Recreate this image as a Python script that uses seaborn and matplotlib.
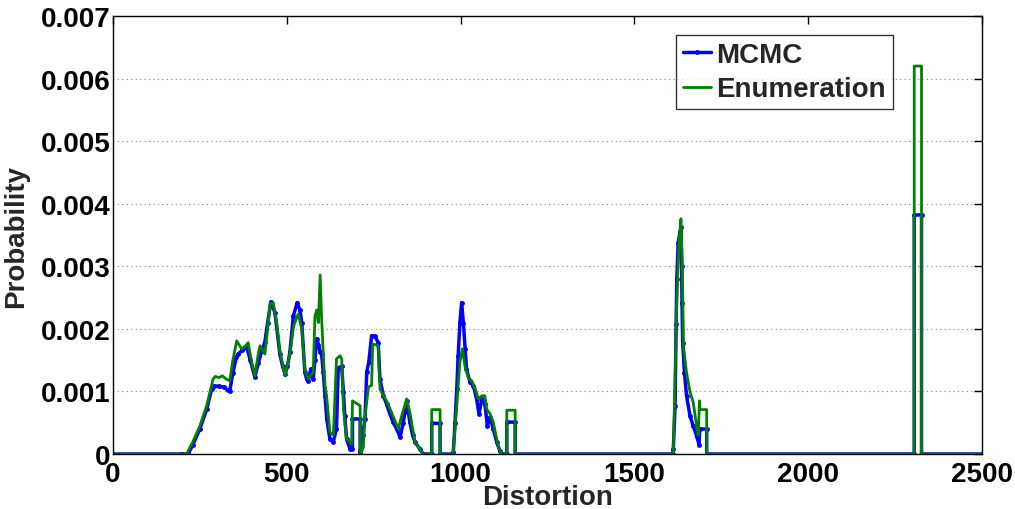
import numpy as np
import pandas as pd
import matplotlib
matplotlib.use("Agg")
import matplotlib.pyplot as plt
import seaborn as sns

# Distortion values and probabilities (probabilities given in units of 1e-3)
mcmc_x = [0, 200, 216, 230, 250, 270, 284, 292, 305, 320, 330, 336, 345, 355, 361, 372,
          385, 395, 408, 418, 428, 437, 445, 454, 466, 480, 488, 495, 502, 509, 519, 530,
          538, 543, 552, 557, 562, 569, 576, 581, 586, 591, 596, 600, 605, 610, 615, 624,
          634, 643, 648, 658, 663, 667, 672, 682, 689, 689, 711, 711, 718, 725, 730, 736,
          744, 754, 763, 768, 778, 787, 796, 806, 816, 826, 835, 840, 845, 854, 862, 869,
          883, 893, 917, 917, 941, 941, 975, 979, 984, 989, 993, 998, 1003, 1008, 1013,
          1017, 1027, 1037, 1046, 1053, 1061, 1070, 1077, 1085, 1094, 1104, 1113, 1118,
          1133, 1133, 1157, 1157, 1610, 1612, 1617, 1620, 1622, 1626, 1631, 1634, 1636,
          1637, 1639, 1644, 1650, 1660, 1669, 1679, 1686, 1688, 1708, 1708, 2305, 2305,
          2326, 2326, 2500]
mcmc_p = [0, 0, 0, 0.15, 0.4, 0.72, 1.04, 1.09, 1.08, 1.07, 1.02, 1.01, 1.3, 1.55, 1.6, 1.66,
          1.7, 1.5, 1.23, 1.45, 1.65, 1.79, 2.1, 2.43, 2.26, 1.6, 1.4, 1.28, 1.4, 1.63, 2.21, 2.42,
          2.3, 2.1, 1.31, 1.2, 1.17, 1.36, 1.2, 1.5, 1.84, 1.75, 1.63, 1.6, 1.31, 0.93, 0.56, 0.24,
          0.2, 0.4, 1.38, 1.4, 0.99, 0.6, 0.24, 0.08, 0.08, 0.56, 0.56, 0.02, 0.3, 0.56, 1.31, 1.47,
          1.89, 1.88, 1.78, 1.2, 0.93, 0.8, 0.65, 0.51, 0.4, 0.27, 0.5, 0.67, 0.85, 0.51, 0.3, 0.19,
          0.08, 0, 0, 0.49, 0.49, 0, 0, 0.03, 0.5, 1.04, 1.57, 2.1, 2.42, 2.1, 1.68,
          1.36, 1.15, 1.09, 0.88, 0.64, 0.88, 0.8, 0.45, 0.59, 0.4, 0.19, 0.05, 0,
          0, 0.51, 0.51, 0, 0, 0.08, 0.77, 2.08, 2.8, 3.38, 3.54, 3.62, 3.0,
          2.42, 1.78, 1.3, 0.93, 0.61, 0.45, 0.29, 0.15, 0.4, 0.4, 0, 0, 3.82,
          3.82, 0, 0]

enum_x = [0, 200, 212, 230, 250, 270, 288, 295, 305, 315, 325, 336, 345, 356, 370, 380,
          389, 398, 408, 418, 423, 437, 445, 452, 461, 471, 480, 495, 509, 520, 533, 543,
          552, 562, 572, 576, 581, 586, 591, 596, 600, 605, 610, 615, 624, 634, 643, 653,
          658, 663, 672, 687, 689, 706, 711, 712, 720, 725, 735, 744, 747, 763, 768, 778,
          787, 801, 821, 830, 845, 854, 869, 880, 893, 917, 917, 941, 941, 976, 979, 989,
          998, 1005, 1013, 1022, 1032, 1042, 1051, 1061, 1070, 1075, 1085, 1094, 1108,
          1118, 1133, 1133, 1157, 1157, 1610, 1612, 1617, 1622, 1629, 1634, 1638, 1641,
          1650, 1660, 1669, 1679, 1684, 1687, 1689, 1708, 1708, 2305, 2305, 2326, 2326,
          2500]
enum_p = [0, 0, 0, 0.2, 0.45, 0.78, 1.2, 1.24, 1.22, 1.25, 1.2, 1.17, 1.5, 1.81, 1.68, 1.72,
          1.78, 1.5, 1.25, 1.6, 1.73, 1.6, 2.0, 2.4, 2.42, 2.1, 1.65, 1.25, 1.6, 2.05, 2.24, 2.0,
          1.35, 1.2, 1.28, 1.3, 2.2, 2.3, 2.1, 2.86, 2.2, 1.6, 1.1, 0.9, 0.35, 0.3, 1.52, 1.57,
          1.52, 0.72, 0.24, 0.16, 0.85, 0.79, 0.77, 0, 0.1, 0.6, 1.07, 1.1, 1.76, 1.73, 1.04, 0.93,
          0.85, 0.67, 0.4, 0.6, 0.88, 0.67, 0.19, 0.1, 0, 0, 0.71, 0.71, 0, 0, 0.05, 0.77,
          1.47, 1.68, 1.39, 1.22, 1.17, 1.05, 0.88, 0.93, 0.93, 0.72, 0.64, 0.51, 0.13,
          0, 0, 0.70, 0.70, 0, 0, 0.05, 1.2, 2.48, 3.44, 3.76, 3.0, 1.73,
          1.3, 0.99, 0.83, 0.45, 0.3, 0.85, 0.71, 0.71, 0, 0, 6.2, 6.2, 0,
          0]

x_ticks = [0, 500, 1000, 1500, 2000, 2500]
y_ticks = [0, 0.001, 0.002, 0.003, 0.004, 0.005, 0.006, 0.007]
y_tick_labels = ["0", "0.001", "0.002", "0.003", "0.004", "0.005", "0.006", "0.007"]

mcmc = pd.DataFrame({"Distortion": mcmc_x, "Probability": np.array(mcmc_p) * 1e-3})
enum = pd.DataFrame({"Distortion": enum_x, "Probability": np.array(enum_p) * 1e-3})

sns.set_theme(style="white")
plt.rcParams["font.family"] = ["Liberation Sans", "DejaVu Sans"]
plt.rcParams["font.weight"] = "bold"

fig = plt.figure(figsize=(10.15, 5.10), dpi=100)
ax = fig.add_axes([0.1113, 0.1078, 0.8562, 0.8589])

sns.lineplot(data=mcmc, x="Distortion", y="Probability", estimator=None, sort=False,
             color="#0000ff", linewidth=2.5, marker=".", markersize=7,
             markeredgewidth=0, label="MCMC", ax=ax)
sns.lineplot(data=enum, x="Distortion", y="Probability", estimator=None, sort=False,
             color="#008000", linewidth=2.0, label="Enumeration", ax=ax)

ax.set_xlim(0, 2500)
ax.set_ylim(0, 0.007)
ax.set_xticks(x_ticks)
ax.set_xticklabels([str(t) for t in x_ticks])
ax.set_yticks(y_ticks)
ax.set_yticklabels(y_tick_labels)

ax.yaxis.grid(True, linestyle=(0, (1, 3)), color="#888888", linewidth=0.8)
ax.xaxis.grid(False)
ax.set_axisbelow(True)

for s in ax.spines.values():
    s.set_visible(True)
    s.set_color("black")
    s.set_linewidth(1.0)

ax.tick_params(direction="in", length=6, width=1, top=True, right=True,
               labelsize=20, colors="black", pad=2)
ax.tick_params(axis="x", pad=5)
for lab in ax.get_xticklabels() + ax.get_yticklabels():
    lab.set_fontweight("bold")

ax.set_xlabel("Distortion", fontsize=20, fontweight="bold", labelpad=-2)
ax.set_ylabel("Probability", fontsize=20, fontweight="bold", labelpad=8)

leg = ax.legend(loc="upper right", bbox_to_anchor=(0.8976, 0.9566), borderaxespad=0,
                fontsize=20, frameon=True, fancybox=False, handlelength=1.0,
                handletextpad=0.2, borderpad=0.25, labelspacing=0.3)
leg.get_frame().set_edgecolor("black")
leg.get_frame().set_linewidth(1.0)
for t in leg.get_texts():
    t.set_fontweight("bold")

fig.savefig("out.png", dpi=100)
